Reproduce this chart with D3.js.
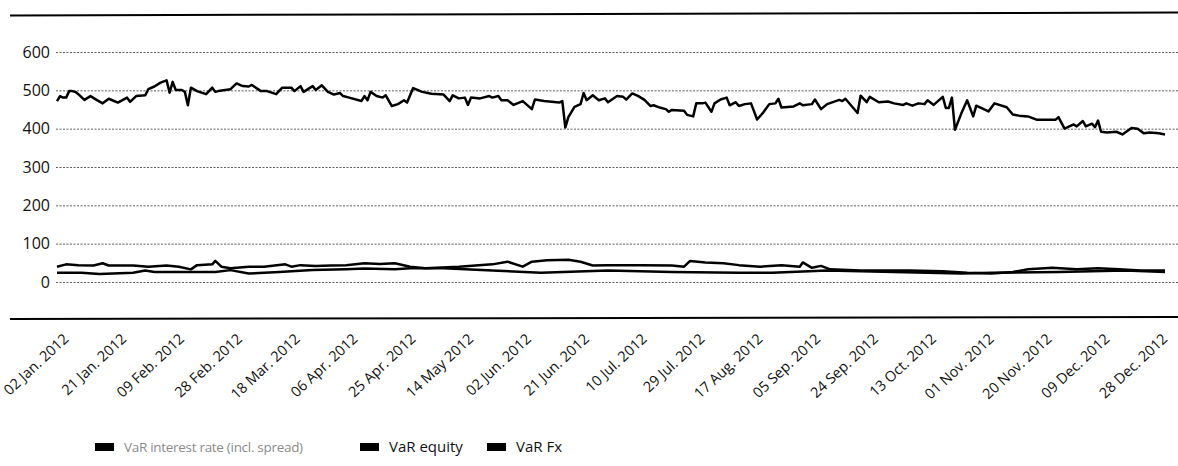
<!DOCTYPE html>
<html>
<head>
<meta charset="utf-8">
<script src="https://cdn.jsdelivr.net/npm/d3@7/dist/d3.min.js"></script>
<style>
  body { margin: 0; background: #fff; }
  svg { display: block; font-family: 'Open Sans', sans-serif; }
</style>
</head>
<body>
<div id="chart"></div>
<script>
// VaR 2012, daily readings (dates as MM-DD, all in 2012)
let irDates = ['01-02','01-03','01-04','01-05','01-06','01-07','01-08','01-09','01-11','01-13','01-15','01-17','01-19','01-22','01-25','01-26','01-28','01-31',
  '02-01','02-03','02-05','02-07','02-08','02-09','02-10','02-12','02-13','02-14','02-15','02-17','02-20','02-22','02-23','02-24','02-28',
  '03-01','03-03','03-05','03-06','03-09','03-11','03-14','03-16','03-19','03-20','03-22','03-23','03-26','03-27','03-29','03-31',
  '04-02','04-04','04-05','04-07','04-11','04-12','04-13','04-14','04-16','04-18','04-19','04-21','04-23','04-25','04-26','04-28',
  '05-01','05-04','05-08','05-10','05-11','05-13','05-15','05-16','05-17','05-20','05-23','05-24','05-26','05-27','05-29','05-31',
  '06-03','06-06','06-07','06-10','06-15','06-16','06-17','06-18','06-20','06-22','06-23','06-24','06-26','06-28','06-30',
  '07-01','07-04','07-06','07-07','07-09','07-11','07-13','07-15','07-16','07-18','07-20','07-21','07-22','07-26','07-27','07-29','07-30',
  '08-01','08-02','08-04','08-05','08-07','08-09','08-10','08-12','08-13','08-15','08-17','08-19','08-21','08-23','08-25','08-26','08-27','08-31',
  '09-02','09-03','09-06','09-07','09-09','09-11','09-15','09-16','09-17','09-21','09-22','09-24','09-25','09-28',
  '10-01','10-03','10-06','10-07','10-09','10-11','10-13','10-14','10-16','10-19','10-20','10-21','10-22','10-23','10-25','10-27','10-29','10-30',
  '11-03','11-05','11-09','11-11','11-13','11-16','11-19','11-22','11-25','11-26','11-28',
  '12-01','12-02','12-04','12-05','12-07','12-08','12-09','12-10','12-12','12-15','12-17','12-20','12-22','12-24','12-26','12-29','12-31']
let irValues = [472,485,481,481,498,498,496,490,475,485,475,466,478,468,481,470,485,487,
  503,510,520,526,494,522,501,501,496,461,507,498,490,507,496,498,503,
  518,511,510,514,498,498,490,507,507,498,511,496,511,501,513,496,
  489,493,485,481,472,485,474,496,485,481,487,459,464,474,468,506,
  496,491,489,472,487,479,481,462,481,479,485,481,485,474,474,462,
  472,451,476,472,468,472,403,430,457,464,493,474,487,474,479,
  469,485,483,476,492,485,475,459,461,455,451,444,449,447,436,432,466,
  466,468,444,466,476,481,461,469,459,464,466,424,442,464,466,478,455,458,
  466,461,464,476,451,464,475,472,478,441,486,469,483,469,
  471,466,462,466,460,466,464,474,462,483,454,454,481,397,438,474,432,460,
  445,466,456,437,434,432,423,423,423,430,400,
  411,406,420,406,413,404,421,392,390,392,385,402,400,388,390,388,385]

let eqDates = ['01-02','01-05','01-09','01-14','01-17','01-19','01-27','02-01','02-07','02-11','02-15','02-17','02-22','02-23','02-25','02-28',
  '03-05','03-10','03-17','03-19','03-22','03-27','04-01','04-06','04-12','04-17','04-22','04-27','05-02','05-13','05-24','05-29',
  '06-03','06-06','06-11','06-18','06-22','06-26','07-01','07-12','07-22','07-26','07-28','08-02','08-08','08-13','08-20','08-27',
  '09-02','09-03','09-06','09-09','09-12','09-22','10-08','10-19','10-27','11-04','11-11','11-16','11-24','12-02','12-09','12-16','12-23','12-31']
let eqValues = [40,46,44,43,49,43,43,40,43,40,33,44,46,55,40,36,
  40,40,46,40,44,42,43,44,49,47,49,40,36,40,46,53,
  40,53,57,58,53,43,44,44,43,40,55,51,49,44,40,44,
  40,51,37,42,33,30,30,28,24,22,26,33,37,33,36,33,30,30]

let fxDates = ['01-02','01-10','01-16','01-27','01-31','02-03','02-13','02-23','02-28','03-05','03-15','03-26','04-06','04-12','04-22',
  '04-27','05-08','05-24','06-09','07-01','07-22','08-13','08-24','09-11','10-03','10-25','11-04','11-26','12-18','12-31']
let fxValues = [24,24,21,24,30,26,26,26,31,22,26,31,33,35,33,36,36,30,24,30,26,24,24,30,26,22,24,26,30,26]

let tickDates = ['01-02','01-21','02-09','02-28','03-18','04-06','04-25','05-14','06-02','06-21',
  '07-10','07-29','08-17','09-05','09-24','10-13','11-01','11-20','12-09','12-28']
let tickLabels = ['02 Jan. 2012','21 Jan. 2012','09 Feb. 2012','28 Feb. 2012','18 Mar. 2012','06 Apr. 2012','25 Apr. 2012',
  '14 May 2012','02 Jun. 2012','21 Jun. 2012','10 Jul. 2012','29 Jul. 2012','17 Aug. 2012','05 Sep. 2012',
  '24 Sep. 2012','13 Oct. 2012','01 Nov. 2012','20 Nov. 2012','09 Dec. 2012','28 Dec. 2012']
let yTicks = [0, 100, 200, 300, 400, 500, 600]

let seriesNames = ['VaR interest rate (incl. spread)', 'VaR equity', 'VaR Fx']

let width = 1178
let height = 466
let left = 56

let parseDay = function(s) { return d3.timeParse('%Y-%m-%d')('2012-' + s) }

let zip = function(dates, values) {
  return dates.map(function(d, i) { return { date: parseDay(d), value: values[i] } })
}

let series = [
  { name: seriesNames[0], data: zip(irDates, irValues) },
  { name: seriesNames[1], data: zip(eqDates, eqValues) },
  { name: seriesNames[2], data: zip(fxDates, fxValues) }
]

let svg = d3.select('#chart')
  .append('svg')
  .attr('width', width)
  .attr('height', height)

let x = d3.scaleTime()
  .domain([parseDay('01-02'), parseDay('12-31')])
  .range([57, 1165])

let y = d3.scaleLinear()
  .domain([0, 600])
  .range([282, 52])

// top and bottom rules (slightly tilted like the printed page)
svg.append('line')
  .attr('x1', 10).attr('y1', 15.5).attr('x2', width).attr('y2', 12.5)
  .attr('stroke', '#000').attr('stroke-width', 2)

svg.append('line')
  .attr('x1', 10).attr('y1', 319).attr('x2', width).attr('y2', 317)
  .attr('stroke', '#000').attr('stroke-width', 2)

// y axis with dotted grid
let yAxis = svg.append('g')
  .attr('transform', `translate(${left},0)`)
  .call(d3.axisLeft(y).tickValues(yTicks).tickSize(-(width - left)).tickPadding(6))

yAxis.select('.domain').remove()
yAxis.selectAll('.tick line')
  .attr('stroke', '#333')
  .attr('stroke-width', 0.8)
  .attr('stroke-dasharray', '2,1.5')
yAxis.selectAll('.tick text')
  .attr('font-size', 16)
  .attr('font-family', "'Open Sans', sans-serif")
  .attr('fill', '#111')

// x axis, rotated date labels
let xAxis = svg.append('g')
  .attr('transform', 'translate(0,340)')
  .call(d3.axisBottom(x)
    .tickValues(tickDates.map(parseDay))
    .tickFormat(function(d, i) { return tickLabels[i] })
    .tickSize(0))

xAxis.select('.domain').remove()
xAxis.selectAll('.tick text')
  .attr('font-size', 14.5)
  .attr('font-family', "'Open Sans', sans-serif")
  .attr('fill', '#111')
  .attr('text-anchor', 'end')
  .attr('x', 0)
  .attr('y', 0)
  .attr('dy', 0)
  .attr('transform', 'translate(12,0) rotate(-43)')

// the three series, all printed in black
let line = d3.line()
  .x(function(d) { return x(d.date) })
  .y(function(d) { return y(d.value) })

svg.selectAll('.series')
  .data(series.slice().reverse())
  .enter()
  .append('path')
  .attr('class', 'series')
  .attr('d', function(d) { return line(d.data) })
  .attr('fill', 'none')
  .attr('stroke', '#000')
  .attr('stroke-width', 2.5)
  .attr('stroke-linejoin', 'round')

// legend
let legendX = [95, 360, 487]
let legend = svg.selectAll('.legend')
  .data(series)
  .enter()
  .append('g')
  .attr('class', 'legend')
  .attr('transform', function(d, i) { return `translate(${legendX[i]},447)` })

legend.append('rect')
  .attr('x', 0).attr('y', -4)
  .attr('width', 19).attr('height', 8)
  .attr('fill', '#000')

legend.append('text')
  .attr('x', 29)
  .attr('dy', '0.35em')
  .attr('font-size', function(d, i) { return i === 0 ? 13.5 : 15 })
  .attr('letter-spacing', function(d, i) { return i === 0 ? -0.3 : 0 })
  .attr('fill', function(d, i) { return i === 0 ? '#8a8a8a' : '#111' })
  .text(function(d) { return d.name })
</script>
</body>
</html>
